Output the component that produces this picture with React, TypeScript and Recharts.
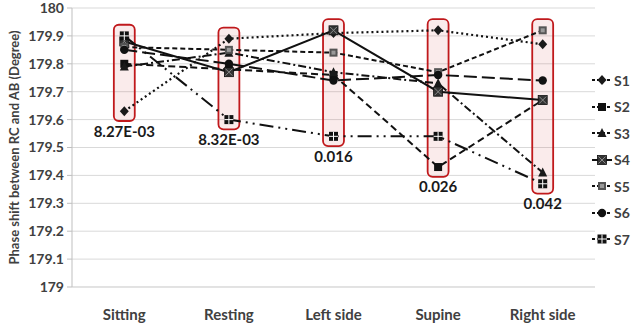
import { LineChart, Line, XAxis, YAxis, CartesianGrid, ReferenceArea, Label } from 'recharts';

const categories = ['Sitting', 'Resting', 'Left side', 'Supine', 'Right side'];
const pValues = ['8.27E-03', '8.32E-03', '0.016', '0.026', '0.042'];
const yTicks = [179, 179.1, 179.2, 179.3, 179.4, 179.5, 179.6, 179.7, 179.8, 179.9, 180];

const s1 = [179.63, 179.89, 179.91, 179.92, 179.87];
const s2 = [179.8, 179.78, 179.76, 179.43, 179.67];
const s3 = [179.79, 179.84, 179.77, 179.73, 179.41];
const s4 = [179.88, 179.77, 179.92, 179.7, 179.67];
const s5 = [179.86, 179.85, 179.84, 179.77, 179.92];
const s6 = [179.85, 179.8, 179.74, 179.76, 179.74];
const s7 = [179.9, 179.6, 179.54, 179.54, 179.37];

const series = [
  { key: 'S1', values: s1, dash: '2 3', marker: 'diamond' },
  { key: 'S2', values: s2, dash: '7 4', marker: 'square' },
  { key: 'S3', values: s3, dash: '8 3 2 3', marker: 'triangle' },
  { key: 'S4', values: s4, dash: undefined, marker: 'squareX' },
  { key: 'S5', values: s5, dash: '5 3', marker: 'squareDot' },
  { key: 'S6', values: s6, dash: '13 5', marker: 'circle' },
  { key: 'S7', values: s7, dash: '14 5 2 5 2 5', marker: 'squarePlus' },
];

const data = categories.map((name, i) => {
  const row: any = { x: i, name };
  series.forEach((s) => { row[s.key] = s.values[i]; });
  return row;
});

const FONT = 'Lato, "Open Sans", sans-serif';
const TXT = '#404040';

function Marker({ kind, cx, cy }: { kind: string; cx: number; cy: number }) {
  if (kind === 'diamond') {
    return <polygon points={`${cx},${cy - 5} ${cx + 4.5},${cy} ${cx},${cy + 5} ${cx - 4.5},${cy}`} fill="#1a1a1a" />;
  }
  if (kind === 'square') {
    return <rect x={cx - 4} y={cy - 4} width={8} height={8} fill="#111" />;
  }
  if (kind === 'triangle') {
    return <polygon points={`${cx},${cy - 5} ${cx + 4.5},${cy + 4} ${cx - 4.5},${cy + 4}`} fill="#1a1a1a" />;
  }
  if (kind === 'squareX') {
    return (
      <g>
        <rect x={cx - 4.5} y={cy - 4.5} width={9} height={9} fill="#333" stroke="#111" strokeWidth={0.8} />
        <path d={`M${cx - 3.5},${cy - 3.5}L${cx + 3.5},${cy + 3.5}M${cx + 3.5},${cy - 3.5}L${cx - 3.5},${cy + 3.5}`} stroke="#8a8a8a" strokeWidth={1} />
      </g>
    );
  }
  if (kind === 'squareDot') {
    return (
      <g>
        <rect x={cx - 4} y={cy - 4} width={8} height={8} fill="#555" />
        <rect x={cx - 2} y={cy - 2} width={4} height={4} fill="#999" />
      </g>
    );
  }
  if (kind === 'circle') {
    return <circle cx={cx} cy={cy} r={4.2} fill="#111" />;
  }
  return (
    <g>
      <rect x={cx - 4.5} y={cy - 4.5} width={9} height={9} fill="#111" />
      <path d={`M${cx},${cy - 4.5}V${cy + 4.5}M${cx - 4.5},${cy}H${cx + 4.5}`} stroke="#fff" strokeWidth={1} />
    </g>
  );
}

function HighlightBox(props: any) {
  const { x, y, width, height } = props;
  return (
    <rect x={x} y={y} width={width} height={height} rx={5} ry={5}
      fill="rgba(200,30,30,0.09)" stroke="#c0191c" strokeWidth={1.8} />
  );
}

function App() {
  return (
    <div style={{ position: 'absolute', left: 0, top: 0, width: 637, height: 325, background: '#fff', fontFamily: FONT }}>
      <LineChart width={637} height={325} data={data} margin={{ top: 8, right: 42, bottom: 0, left: 0 }}>
        <CartesianGrid vertical={false} stroke="#d9d9d9" />
        <XAxis
          type="number"
          dataKey="x"
          domain={[-0.5, 4.5]}
          ticks={[0, 1, 2, 3, 4]}
          tickFormatter={(i: number) => categories[i]}
          axisLine={{ stroke: '#d9d9d9' }}
          tickLine={false}
          height={38}
          tickMargin={16}
          tick={{ fill: TXT, fontSize: 15, fontWeight: 700, fontFamily: FONT }}
        />
        <YAxis
          type="number"
          domain={[179, 180]}
          ticks={yTicks}
          width={72}
          axisLine={{ stroke: '#bfbfbf' }}
          tickLine={{ stroke: '#bfbfbf' }}
          tickSize={5}
          tickMargin={3}
          interval={0}
          tick={{ fill: TXT, fontSize: 14, fontWeight: 700, fontFamily: FONT }}
        >
          <Label
            content={({ viewBox }: any) => {
              const cx = 14;
              const cy = viewBox.y + viewBox.height / 2;
              return (
                <text x={cx} y={cy} transform={`rotate(-90 ${cx} ${cy})`} textAnchor="middle" dominantBaseline="central"
                  fill={TXT} fontSize={13} fontWeight={700} fontFamily={FONT}>
                  Phase shift between RC and AB (Degree)
                </text>
              );
            }}
          />
        </YAxis>
        {categories.map((c, i) => {
          const vals = series.map((s) => s.values[i]);
          return (
            <ReferenceArea
              key={c}
              x1={i - 0.1}
              x2={i + 0.1}
              y1={Math.min(...vals) - 0.035}
              y2={Math.max(...vals) + 0.04}
              shape={<HighlightBox />}
              label={{ value: pValues[i], position: 'bottom', offset: 5, fill: '#1a1a1a', fontSize: 15, fontWeight: 700, fontFamily: FONT }}
            />
          );
        })}
        {series.map((s) => (
          <Line
            key={s.key}
            type="linear"
            dataKey={s.key}
            stroke="#111"
            strokeWidth={s.key === 'S1' ? 2.2 : 2}
            strokeDasharray={s.dash}
            isAnimationActive={false}
            dot={(p: any) => <Marker key={`${s.key}-${p.index}`} kind={s.marker} cx={p.cx} cy={p.cy} />}
            activeDot={false}
          />
        ))}
      </LineChart>
      <div style={{ position: 'absolute', left: 592, top: 67, width: 45 }}>
        {series.map((s) => (
          <div key={s.key} style={{ height: 26.5, display: 'flex', alignItems: 'center' }}>
            <svg width={20} height={12}>
              <line x1={0} y1={6} x2={20} y2={6} stroke="#111" strokeWidth={2} strokeDasharray={s.dash ? '3 2' : undefined} />
              <Marker kind={s.marker} cx={10} cy={6} />
            </svg>
            <span style={{ marginLeft: 2, fontSize: 14, fontWeight: 700, color: TXT }}>{s.key}</span>
          </div>
        ))}
      </div>
    </div>
  );
}

export default App;
